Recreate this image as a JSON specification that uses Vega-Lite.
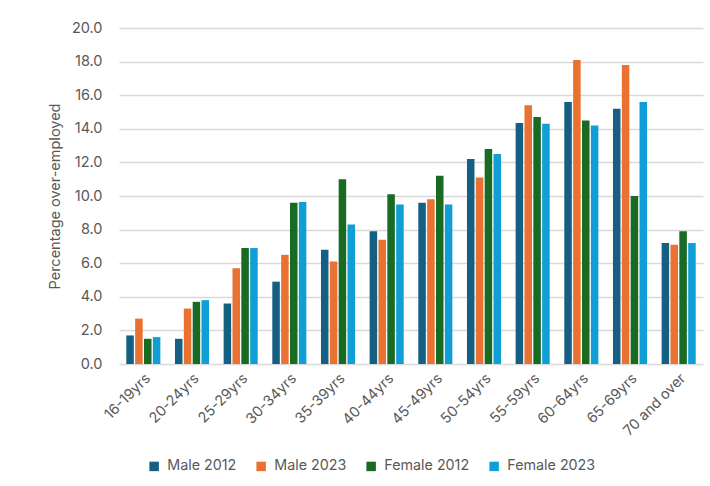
{
  "$schema": "https://vega.github.io/schema/vega-lite/v6.json",
  "width": 584,
  "height": 336,
  "autosize": "none",
  "padding": {"left": 119, "top": 28, "right": 7, "bottom": 122},
  "background": "white",
  "config": {
    "font": "Inter",
    "view": {"stroke": null},
    "axis": {"labelColor": "#595959", "titleColor": "#595959", "labelFont": "Inter", "titleFont": "Inter"}
  },
  "data": {
    "values": [
      {"age": "16-19yrs", "group": "Male 2012", "value": 1.7},
      {"age": "16-19yrs", "group": "Male 2023", "value": 2.7},
      {"age": "16-19yrs", "group": "Female 2012", "value": 1.5},
      {"age": "16-19yrs", "group": "Female 2023", "value": 1.6},
      {"age": "20-24yrs", "group": "Male 2012", "value": 1.5},
      {"age": "20-24yrs", "group": "Male 2023", "value": 3.3},
      {"age": "20-24yrs", "group": "Female 2012", "value": 3.7},
      {"age": "20-24yrs", "group": "Female 2023", "value": 3.8},
      {"age": "25-29yrs", "group": "Male 2012", "value": 3.6},
      {"age": "25-29yrs", "group": "Male 2023", "value": 5.7},
      {"age": "25-29yrs", "group": "Female 2012", "value": 6.9},
      {"age": "25-29yrs", "group": "Female 2023", "value": 6.9},
      {"age": "30-34yrs", "group": "Male 2012", "value": 4.9},
      {"age": "30-34yrs", "group": "Male 2023", "value": 6.5},
      {"age": "30-34yrs", "group": "Female 2012", "value": 9.6},
      {"age": "30-34yrs", "group": "Female 2023", "value": 9.65},
      {"age": "35-39yrs", "group": "Male 2012", "value": 6.8},
      {"age": "35-39yrs", "group": "Male 2023", "value": 6.1},
      {"age": "35-39yrs", "group": "Female 2012", "value": 11.0},
      {"age": "35-39yrs", "group": "Female 2023", "value": 8.3},
      {"age": "40-44yrs", "group": "Male 2012", "value": 7.9},
      {"age": "40-44yrs", "group": "Male 2023", "value": 7.4},
      {"age": "40-44yrs", "group": "Female 2012", "value": 10.1},
      {"age": "40-44yrs", "group": "Female 2023", "value": 9.5},
      {"age": "45-49yrs", "group": "Male 2012", "value": 9.6},
      {"age": "45-49yrs", "group": "Male 2023", "value": 9.8},
      {"age": "45-49yrs", "group": "Female 2012", "value": 11.2},
      {"age": "45-49yrs", "group": "Female 2023", "value": 9.5},
      {"age": "50-54yrs", "group": "Male 2012", "value": 12.2},
      {"age": "50-54yrs", "group": "Male 2023", "value": 11.1},
      {"age": "50-54yrs", "group": "Female 2012", "value": 12.8},
      {"age": "50-54yrs", "group": "Female 2023", "value": 12.5},
      {"age": "55-59yrs", "group": "Male 2012", "value": 14.35},
      {"age": "55-59yrs", "group": "Male 2023", "value": 15.4},
      {"age": "55-59yrs", "group": "Female 2012", "value": 14.7},
      {"age": "55-59yrs", "group": "Female 2023", "value": 14.3},
      {"age": "60-64yrs", "group": "Male 2012", "value": 15.6},
      {"age": "60-64yrs", "group": "Male 2023", "value": 18.1},
      {"age": "60-64yrs", "group": "Female 2012", "value": 14.5},
      {"age": "60-64yrs", "group": "Female 2023", "value": 14.2},
      {"age": "65-69yrs", "group": "Male 2012", "value": 15.2},
      {"age": "65-69yrs", "group": "Male 2023", "value": 17.8},
      {"age": "65-69yrs", "group": "Female 2012", "value": 10.0},
      {"age": "65-69yrs", "group": "Female 2023", "value": 15.6},
      {"age": "70 and over", "group": "Male 2012", "value": 7.2},
      {"age": "70 and over", "group": "Male 2023", "value": 7.1},
      {"age": "70 and over", "group": "Female 2012", "value": 7.9},
      {"age": "70 and over", "group": "Female 2023", "value": 7.2}
    ]
  },
  "mark": {"type": "bar"},
  "encoding": {
    "x": {
      "field": "age",
      "type": "nominal",
      "sort": null,
      "scale": {"paddingInner": 0.3, "paddingOuter": 0.15},
      "axis": {
        "title": null,
        "labelAngle": -45,
        "labelFontSize": 14.5,
        "labelPadding": 7,
        "ticks": false,
        "domain": false
      }
    },
    "xOffset": {
      "field": "group",
      "type": "nominal",
      "sort": ["Male 2012", "Male 2023", "Female 2012", "Female 2023"],
      "scale": {"paddingInner": 0.15, "paddingOuter": 0}
    },
    "y": {
      "field": "value",
      "type": "quantitative",
      "scale": {"domain": [0, 20], "nice": false},
      "axis": {
        "title": "Percentage over-employed",
        "titleFontSize": 14.5,
        "titleFontWeight": "normal",
        "titlePadding": 9,
        "values": [0, 2, 4, 6, 8, 10, 12, 14, 16, 18, 20],
        "format": ".1f",
        "labelFontSize": 14.5,
        "labelPadding": 17,
        "ticks": false,
        "domain": false,
        "gridColor": "#d9d9d9",
        "gridWidth": 1.3
      }
    },
    "color": {
      "field": "group",
      "type": "nominal",
      "scale": {
        "domain": ["Male 2012", "Male 2023", "Female 2012", "Female 2023"],
        "range": ["#156082", "#E97132", "#196B24", "#0F9ED5"]
      },
      "legend": {
        "title": null,
        "orient": "none",
        "direction": "horizontal",
        "legendX": 28,
        "legendY": 431,
        "symbolType": "square",
        "symbolSize": 90,
        "symbolStrokeWidth": 0,
        "labelFontSize": 14.3,
        "labelColor": "#595959",
        "labelOffset": 6,
        "columnPadding": 17,
        "padding": 0
      }
    }
  }
}
